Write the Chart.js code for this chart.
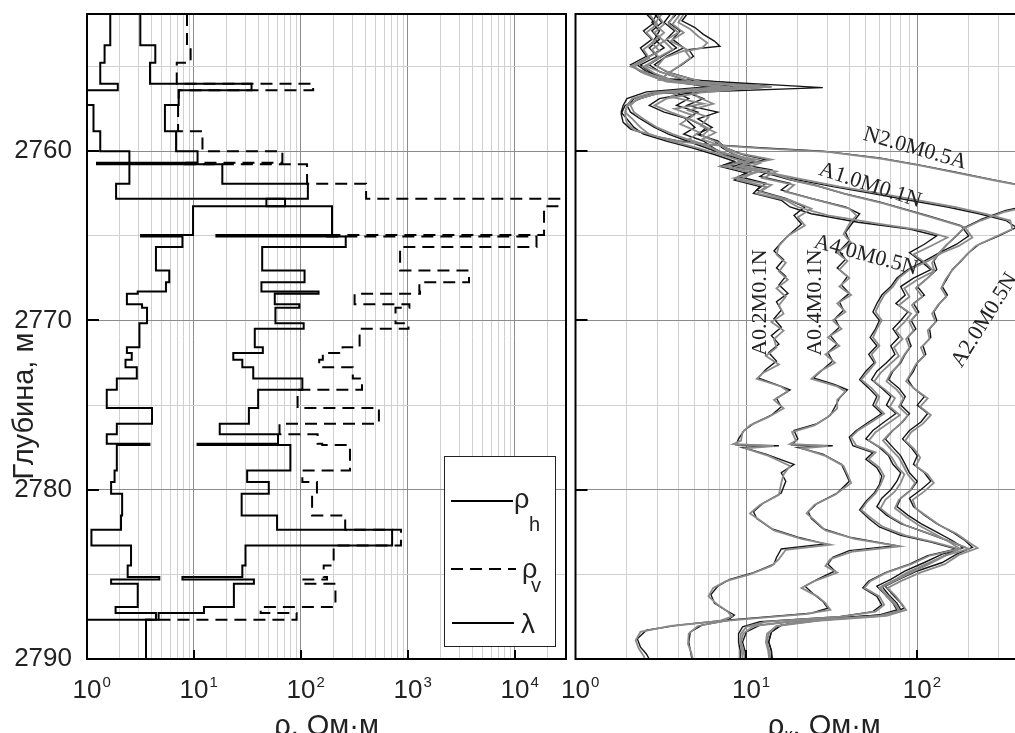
<!DOCTYPE html>
<html>
<head>
<meta charset="utf-8">
<script src="https://cdn.jsdelivr.net/npm/chart.js@4.4.0/dist/chart.umd.min.js"></script>
<style>
  html, body { margin: 0; padding: 0; background: #fff; overflow: hidden; width: 1015px; height: 733px; }
  #left { position: absolute; left: 0; top: 0; }
  #right { position: absolute; left: 540px; top: 0; }
</style>
</head>
<body>
<canvas id="left" width="600" height="733"></canvas>
<canvas id="right" width="560" height="733"></canvas>
<script>
// ---- left panel: layered model, layer boundaries (m) ----
const layerDepth = [2751.9, 2753.74, 2754.78, 2756.02, 2756.41, 2757.28, 2758.82, 2760.00, 2760.69, 2760.77,
  2761.93, 2762.81, 2763.25, 2764.96, 2765.04, 2765.67, 2767.05, 2767.74, 2768.29, 2768.42,
  2769.05, 2769.25, 2770.16, 2770.49, 2771.58, 2771.93, 2772.32, 2772.76, 2773.43, 2774.09,
  2775.18, 2776.10, 2776.73, 2777.28, 2777.36, 2778.86, 2779.55, 2780.24, 2781.52, 2782.36,
  2783.29, 2784.47, 2785.16, 2785.31, 2785.55, 2786.93, 2787.29, 2787.68, 2790.0];

const lambda = [1.65, 1.46, 1.33, 1.94, 1.0, 1.15, 1.33, 2.49, 2.49, 2.49,
  1.87, 71, 9.8, 3.2, 7.8, 4.41, 5.87, 5.47, 2.98, 2.36,
  3.27, 3.64, 3.09, 3.09, 2.36, 2.62, 2.29, 2.92, 1.9, 1.53,
  4.05, 1.9, 1.53, 3.83, 1.9, 1.81, 1.68, 2.13, 2.08, 1.1,
  2.58, 2.4, 4.74, 1.68, 2.98, 1.85, 4.41, 1.0];

const rhoH = [3.15, 4.35, 3.88, 34.5, 7.2, 5.35, 6.8, 10.8, 1.24, 18.4,
  116, 47.5, 195, 16.2, 262, 43.4, 108, 42.7, 146, 56.9,
  96.4, 57.7, 106, 37, 44, 23.3, 28.3, 35.8, 103, 39.8,
  32.6, 17.4, 61, 10.8, 79.6, 31.4, 50, 27.9, 59.8, 711,
  30.3, 28.3, 7.8, 36.3, 23.6, 12.4, 4.67, 3.56];

const rhoV = [8.6, 9.3, 6.9, 130, 7.2, 7.1, 12.0, 67, 7.7, 114,
  406, 200000, 18700, 166, 15900, 844, 3720, 1278, 1297, 317,
  1031, 765, 1012, 353, 245, 160, 148, 305, 372, 93,
  535, 63, 143, 158, 287, 103, 141, 127, 259, 860,
  202, 163, 175, 102, 210, 42, 91, 3.56];

// ---- right panel: apparent resistivity curves [depth, value] ----
const a02K = [[2751.9,3.0],[2752.4,2.8],[2752.9,3.1],[2753.4,2.9],[2753.9,3.3],[2754.4,2.7],[2754.9,2.3],[2755.3,2.6],[2755.8,3.6],[2756.2,8.5],[2756.5,3.8],[2756.9,4.6],[2757.3,3.9],[2757.7,5.2],[2758.1,4.4],[2758.6,5.0],[2759.0,4.3],[2759.4,5.6],[2759.8,6.4],[2760.2,7.5],[2760.5,10.5],[2760.8,7.6],[2761.1,11],[2761.5,9],[2761.9,13],[2762.3,11.5],[2762.8,17],[2763.3,22],[2763.8,19],[2764.3,21],[2764.9,18],[2765.4,16],[2765.9,14.5],[2766.4,16.5],[2766.9,15],[2767.4,17],[2767.9,15.5],[2768.4,17.5],[2768.9,15],[2769.4,16],[2769.9,14.5],[2770.4,16],[2770.9,14],[2771.4,15.5],[2771.9,13.5],[2772.4,15],[2772.9,13],[2773.4,11.7],[2773.8,15],[2774.1,18],[2774.6,15],[2775.1,16],[2775.6,14],[2776.1,11],[2776.5,9.7],[2777.0,9],[2777.35,8.7],[2777.4,15.5],[2777.5,9.5],[2777.9,13],[2778.5,19],[2779.0,16],[2779.5,17],[2780.2,16],[2780.8,12.5],[2781.3,11],[2781.7,11.5],[2782.3,14],[2782.8,20],[2783.2,29],[2783.5,16],[2784.0,15],[2784.4,14.5],[2784.9,11],[2785.3,8],[2785.7,6.8],[2786.2,6.2],[2786.7,6.5],[2787.1,7.5],[2787.4,8.5],[2787.7,7.8],[2788.0,4],[2788.3,2.6],[2788.8,2.3],[2789.3,2.4],[2789.7,2.6],[2790,2.7]];
const a02G = [[2751.9,3.2],[2752.5,2.9],[2753.0,3.3],[2753.6,2.8],[2754.1,3.1],[2754.6,2.5],[2755.0,2.1],[2755.5,2.8],[2755.9,3.9],[2756.15,11],[2756.4,4.2],[2756.8,3.6],[2757.2,5.6],[2757.5,3.8],[2757.9,4.9],[2758.4,4.1],[2758.9,5.3],[2759.3,4.6],[2759.7,6.0],[2760.1,7.0],[2760.5,11.5],[2760.9,7.2],[2761.2,12],[2761.6,8.5],[2762.0,14],[2762.4,12],[2762.9,18],[2763.4,24],[2763.9,20],[2764.4,22],[2765.0,17.5],[2765.6,15.5],[2766.1,15],[2766.6,17],[2767.1,15.5],[2767.6,17.5],[2768.1,15],[2768.6,17],[2769.1,15.5],[2769.6,16.5],[2770.1,14],[2770.6,16.5],[2771.1,14.5],[2771.6,15],[2772.1,13],[2772.6,15.5],[2773.1,12.5],[2773.45,11.5],[2773.9,16],[2774.2,17.5],[2774.7,14.5],[2775.2,16.5],[2775.7,13.5],[2776.2,10.5],[2776.6,9.5],[2777.1,9.3],[2777.3,8.4],[2777.42,14.5],[2777.55,9.8],[2778.0,13.5],[2778.6,18],[2779.1,16.5],[2779.6,16],[2780.3,15.5],[2780.9,12],[2781.4,10.5],[2781.8,12],[2782.4,14.5],[2782.9,21],[2783.25,31],[2783.55,17],[2784.1,15.5],[2784.5,14],[2785.0,10.5],[2785.4,7.6],[2785.8,6.4],[2786.3,6.0],[2786.8,6.8],[2787.2,7.8],[2787.5,8.2],[2787.75,7.0],[2788.05,3.6],[2788.4,2.4],[2788.9,2.25],[2789.4,2.35],[2789.8,2.5],[2790,2.55]];

const a04K = [[2751.9,3.6],[2752.4,3.3],[2752.9,3.8],[2753.4,3.4],[2753.9,3.9],[2754.4,3.2],[2754.9,2.7],[2755.3,3.1],[2755.8,4.4],[2756.2,13],[2756.5,4.4],[2756.9,5.6],[2757.3,4.5],[2757.7,6.8],[2758.1,5.2],[2758.6,6.3],[2759.0,5.1],[2759.4,6.8],[2759.8,7.5],[2760.2,9.5],[2760.5,13],[2760.8,9.5],[2761.1,14],[2761.5,12],[2761.9,18],[2762.3,16],[2762.8,24],[2763.3,38],[2763.7,46],[2764.2,42],[2764.8,38],[2765.3,40],[2765.9,35],[2766.4,38],[2766.9,34],[2767.4,39],[2767.9,36],[2768.4,40],[2768.9,35],[2769.4,37],[2769.9,33],[2770.4,35],[2770.9,31],[2771.4,34],[2771.9,30],[2772.4,32],[2772.9,28],[2773.4,24.7],[2773.8,33],[2774.1,39],[2774.6,35],[2775.1,33],[2775.6,31],[2776.1,26],[2776.5,19],[2777.0,20],[2777.35,18.5],[2777.4,32],[2777.5,20],[2777.9,28],[2778.5,36],[2779.0,38],[2779.5,40],[2780.2,34],[2780.8,26],[2781.3,23],[2781.7,24],[2782.3,28],[2782.8,40],[2783.3,75],[2783.6,40],[2784.0,32],[2784.4,30],[2784.8,33],[2785.3,26],[2785.7,22],[2786.2,25],[2786.6,28],[2787.0,30],[2787.3,24],[2787.7,8],[2788.0,5.5],[2788.4,4.7],[2789.0,4.6],[2789.5,4.7],[2790,4.8]];
const a04G = [[2751.9,3.8],[2752.5,3.5],[2753.0,4.0],[2753.5,3.3],[2754.0,3.7],[2754.5,3.0],[2755.0,2.6],[2755.4,3.3],[2755.9,4.8],[2756.15,12],[2756.45,4.8],[2756.8,5.2],[2757.2,6.4],[2757.6,4.6],[2758.0,6.0],[2758.5,5.4],[2758.9,6.6],[2759.3,5.5],[2759.7,7.2],[2760.1,8.8],[2760.5,14],[2760.9,9],[2761.2,15],[2761.6,12.5],[2762.0,19],[2762.4,17],[2762.9,26],[2763.4,40],[2763.8,44],[2764.3,40],[2764.9,37],[2765.4,41],[2766.0,34],[2766.5,39],[2767.0,35],[2767.5,40],[2768.0,35],[2768.5,41],[2769.0,34],[2769.5,38],[2770.0,32],[2770.5,36],[2771.0,30],[2771.5,35],[2772.0,29],[2772.5,33],[2773.0,27],[2773.45,24],[2773.9,34],[2774.2,38],[2774.7,34],[2775.2,34],[2775.7,30],[2776.2,25],[2776.6,18.5],[2777.1,19.5],[2777.3,18],[2777.42,30],[2777.55,21],[2778.0,29],[2778.6,37],[2779.1,39],[2779.6,41],[2780.3,33],[2780.9,25],[2781.4,22.5],[2781.8,25],[2782.4,29],[2782.9,43],[2783.35,79],[2783.65,42],[2784.1,31],[2784.5,29],[2784.9,34],[2785.4,25],[2785.8,21],[2786.3,26],[2786.7,29],[2787.1,31],[2787.35,22],[2787.75,7.5],[2788.05,5.2],[2788.5,4.6],[2789.1,4.55],[2789.6,4.75],[2790,4.85]];

const a10K = [[2751.9,3.9],[2752.4,3.5],[2752.9,4.1],[2753.4,3.7],[2753.9,4.3],[2754.4,3.4],[2754.9,2.9],[2755.3,3.4],[2755.8,5],[2756.2,14],[2756.5,5],[2756.9,3.1],[2757.3,2.7],[2757.7,3.3],[2758.1,4.6],[2758.6,5.8],[2759.0,5.3],[2759.4,6.5],[2759.8,7.2],[2760.2,8.5],[2760.6,11],[2760.9,9.5],[2761.3,13],[2761.7,18],[2762.0,25],[2762.5,37],[2763.0,60],[2763.8,114],[2764.4,180],[2765.0,200],[2765.5,170],[2766.0,135],[2766.5,110],[2767.0,88],[2767.5,76],[2768.0,70],[2768.5,62],[2769.0,58],[2769.5,55],[2770.0,60],[2770.5,57],[2771.0,53],[2771.5,58],[2772.0,52],[2772.5,56],[2773.0,50],[2773.5,46],[2774.0,52],[2774.5,58],[2775.0,55],[2775.5,62],[2776.0,52],[2776.5,44],[2776.9,40],[2777.4,42],[2777.8,55],[2778.2,50],[2778.7,58],[2779.2,62],[2779.7,60],[2780.2,56],[2780.7,50],[2781.2,46],[2781.7,52],[2782.2,60],[2782.7,80],[2783.1,120],[2783.5,170],[2783.9,115],[2784.4,90],[2784.9,65],[2785.4,52],[2785.8,48],[2786.3,58],[2786.8,62],[2787.2,55],[2787.5,35],[2787.8,12],[2788.1,9.5],[2788.5,9],[2789.0,9],[2789.5,9.2],[2790,9.2]];
const a10G = [[2751.9,4.1],[2752.5,3.7],[2753.0,4.3],[2753.5,3.6],[2754.0,4.5],[2754.5,3.3],[2755.0,3.0],[2755.4,3.6],[2755.9,5.4],[2756.2,13],[2756.55,5.4],[2756.9,3.4],[2757.3,2.9],[2757.7,3.6],[2758.2,4.9],[2758.7,6.1],[2759.1,5.5],[2759.5,6.9],[2759.9,7.6],[2760.3,9],[2760.7,12],[2761.0,10],[2761.4,15],[2761.8,20],[2762.1,27],[2762.6,40],[2763.1,64],[2763.9,120],[2764.5,190],[2765.1,210],[2765.6,175],[2766.0,140],[2766.5,115],[2767.0,90],[2767.5,78],[2768.0,72],[2768.5,64],[2769.0,60],[2769.5,57],[2770.0,62],[2770.5,58],[2771.0,55],[2771.5,60],[2772.0,54],[2772.5,57],[2773.0,52],[2773.5,47],[2774.0,54],[2774.5,60],[2775.0,57],[2775.5,64],[2776.0,54],[2776.5,45],[2776.9,41],[2777.4,44],[2777.8,57],[2778.2,52],[2778.7,60],[2779.2,64],[2779.7,61],[2780.2,57],[2780.7,51],[2781.2,47],[2781.7,54],[2782.2,63],[2782.7,85],[2783.1,125],[2783.5,175],[2783.9,118],[2784.4,92],[2784.9,66],[2785.4,53],[2785.8,49],[2786.3,60],[2786.8,64],[2787.2,57],[2787.5,36],[2787.8,13],[2788.1,10],[2788.5,9.3],[2789.0,9.2],[2789.5,9.4],[2790,9.5]];

const a40K = [[2751.9,2.6],[2752.4,2.9],[2752.9,2.5],[2753.4,2.8],[2753.9,2.4],[2754.4,2.6],[2754.9,2.1],[2755.3,2.4],[2755.8,3.2],[2756.2,6],[2756.5,2.6],[2756.9,2.0],[2757.3,1.9],[2757.7,1.85],[2758.1,2.0],[2758.6,2.2],[2759.0,2.5],[2759.4,3.4],[2759.8,4.8],[2760.2,6.5],[2760.6,8.5],[2760.9,7],[2761.3,10],[2761.7,8.5],[2762.1,12],[2762.5,11],[2762.9,16],[2763.3,18],[2763.7,24],[2764.2,45],[2764.6,90],[2765.0,130],[2765.5,110],[2766.0,90],[2766.5,105],[2767.0,120],[2767.5,95],[2768.0,80],[2768.5,85],[2769.0,75],[2769.5,88],[2770.0,80],[2770.5,72],[2771.0,78],[2771.5,70],[2772.0,74],[2772.5,66],[2773.0,58],[2773.5,54],[2774.0,62],[2774.5,70],[2775.0,66],[2775.5,75],[2776.0,64],[2776.5,55],[2777.0,50],[2777.5,60],[2778.0,68],[2778.5,72],[2779.0,80],[2779.5,76],[2780.0,70],[2780.5,62],[2781.0,58],[2781.5,66],[2782.0,80],[2782.5,110],[2783.0,150],[2783.4,190],[2783.8,140],[2784.3,110],[2784.8,85],[2785.3,70],[2785.7,58],[2786.2,65],[2786.7,72],[2787.1,76],[2787.4,60],[2787.7,25],[2788.0,16],[2788.4,14],[2789.0,13.5],[2789.5,14],[2790,14]];
const a40G = [[2751.9,2.7],[2752.5,3.0],[2753.0,2.6],[2753.5,2.9],[2754.0,2.5],[2754.5,2.7],[2755.0,2.2],[2755.4,2.5],[2755.9,3.4],[2756.2,7],[2756.55,2.8],[2756.9,2.15],[2757.3,2.0],[2757.7,1.95],[2758.1,2.15],[2758.6,2.4],[2759.0,2.7],[2759.4,3.6],[2759.8,5.1],[2760.2,7],[2760.6,9.5],[2760.9,7.5],[2761.3,11],[2761.7,9],[2762.1,13],[2762.5,11.5],[2762.9,17],[2763.3,20],[2763.8,30],[2764.3,60],[2764.7,110],[2765.1,150],[2765.6,120],[2766.1,95],[2766.6,112],[2767.1,125],[2767.6,100],[2768.1,84],[2768.6,90],[2769.1,78],[2769.6,92],[2770.1,84],[2770.6,75],[2771.1,82],[2771.6,73],[2772.1,78],[2772.6,69],[2773.1,61],[2773.6,56],[2774.1,65],[2774.6,74],[2775.1,69],[2775.6,79],[2776.1,67],[2776.6,57],[2777.1,52],[2777.6,63],[2778.1,71],[2778.6,76],[2779.1,84],[2779.6,80],[2780.1,74],[2780.6,65],[2781.1,61],[2781.6,70],[2782.1,85],[2782.6,118],[2783.1,160],[2783.5,200],[2783.9,145],[2784.4,112],[2784.9,87],[2785.4,72],[2785.8,60],[2786.3,68],[2786.8,75],[2787.15,79],[2787.45,62],[2787.75,23],[2788.05,15],[2788.5,13.2],[2789.0,13],[2789.5,13.4],[2790,13.6]];

const a20K = [[2751.9,2.9],[2752.4,3.2],[2752.9,2.8],[2753.4,3.1],[2753.9,2.7],[2754.4,3.0],[2754.9,2.4],[2755.3,2.7],[2755.8,3.6],[2756.2,7],[2756.5,3.0],[2756.9,2.2],[2757.3,2.0],[2757.7,2.1],[2758.1,2.4],[2758.6,2.9],[2759.0,3.5],[2759.4,4.5],[2759.8,5.8],[2760.2,7.5],[2760.6,10],[2760.9,8.5],[2761.3,13],[2761.7,20],[2762.1,32],[2762.5,55],[2762.9,90],[2763.3,150],[2763.7,230],[2764.1,330],[2764.5,380],[2765.0,300],[2765.5,230],[2766.0,200],[2766.5,180],[2767.0,160],[2767.5,150],[2768.0,140],[2768.5,150],[2769.0,135],[2769.5,125],[2770.0,130],[2770.5,118],[2771.0,120],[2771.5,108],[2772.0,112],[2772.5,100],[2773.0,95],[2773.5,88],[2774.0,95],[2774.5,110],[2775.0,100],[2775.5,115],[2776.0,105],[2776.5,90],[2777.0,82],[2777.5,92],[2778.0,100],[2778.5,95],[2779.0,110],[2779.5,120],[2780.0,105],[2780.5,90],[2781.0,95],[2781.5,110],[2782.0,130],[2782.5,160],[2783.0,190],[2783.4,210],[2783.8,170],[2784.3,140],[2784.8,100],[2785.3,78],[2785.7,65],[2786.2,72],[2786.7,80],[2787.0,84],[2787.4,65],[2787.7,28],[2788.0,16],[2788.4,14],[2789.0,13.5],[2789.5,14],[2790,14.2]];
const a20G = [[2751.9,3.0],[2752.5,3.3],[2753.0,2.9],[2753.5,3.3],[2754.0,2.8],[2754.5,3.1],[2755.0,2.5],[2755.4,2.9],[2755.9,3.9],[2756.2,8],[2756.55,3.2],[2756.9,2.3],[2757.3,2.1],[2757.7,2.2],[2758.1,2.5],[2758.6,3.0],[2759.0,3.7],[2759.4,4.8],[2759.8,6.1],[2760.2,8],[2760.6,10.5],[2760.9,9],[2761.3,14],[2761.7,22],[2762.1,35],[2762.5,60],[2762.9,100],[2763.3,165],[2763.7,250],[2764.1,350],[2764.6,360],[2765.1,280],[2765.6,220],[2766.1,195],[2766.6,175],[2767.1,158],[2767.6,146],[2768.1,138],[2768.6,148],[2769.1,132],[2769.6,122],[2770.1,128],[2770.6,115],[2771.1,118],[2771.6,105],[2772.1,110],[2772.6,98],[2773.1,92],[2773.6,86],[2774.1,98],[2774.6,115],[2775.1,104],[2775.6,120],[2776.1,108],[2776.6,92],[2777.1,85],[2777.6,96],[2778.1,104],[2778.6,98],[2779.1,115],[2779.6,125],[2780.1,110],[2780.6,94],[2781.1,98],[2781.6,115],[2782.1,135],[2782.6,170],[2783.1,200],[2783.45,225],[2783.85,175],[2784.4,145],[2784.9,104],[2785.4,80],[2785.8,67],[2786.3,75],[2786.8,82],[2787.1,86],[2787.45,66],[2787.75,26],[2788.05,15],[2788.5,13.5],[2789.0,13.2],[2789.5,13.6],[2790,13.8]];

const n20K = [[2751.9,4.5],[2752.3,4.2],[2752.7,5.0],[2753.1,5.6],[2753.5,6.5],[2753.8,7.0],[2754.0,4.6],[2754.4,4.9],[2754.9,4.2],[2755.3,3.6],[2755.7,3.2],[2756.25,28],[2756.6,3.0],[2756.9,2.4],[2757.3,1.95],[2757.8,1.85],[2758.3,1.9],[2758.7,2.1],[2759.1,2.8],[2759.4,4],[2759.6,6],[2759.8,12],[2760.0,28],[2760.4,60],[2760.8,100],[2761.2,160],[2761.7,280],[2762.1,450],[2762.6,700],[2763.1,500],[2763.5,330],[2764.0,240],[2764.5,190],[2765.0,170],[2765.5,150],[2766.0,135],[2766.5,125],[2767.0,130],[2767.5,115],[2768.0,100],[2768.5,110],[2769.0,95],[2769.5,102],[2770.0,92],[2770.5,98],[2771.0,88],[2771.5,92],[2772.0,85],[2772.5,80],[2773.0,72],[2773.5,68],[2774.0,78],[2774.5,85],[2775.0,80],[2775.5,90],[2776.0,82],[2776.5,72],[2777.0,65],[2777.5,72],[2778.0,80],[2778.5,85],[2779.0,90],[2779.5,100],[2780.0,92],[2780.5,80],[2781.0,76],[2781.5,88],[2782.0,105],[2782.5,130],[2783.0,160],[2783.4,185],[2783.8,150],[2784.3,120],[2784.8,95],[2785.3,75],[2785.7,62],[2786.2,68],[2786.7,76],[2787.1,80],[2787.4,62],[2787.7,22],[2788.0,12],[2788.4,10],[2789.0,9.5],[2789.5,9.8],[2790,10]];
const n20G = [[2751.9,4.3],[2752.4,4.0],[2752.8,4.7],[2753.2,5.2],[2753.6,5.9],[2753.9,5.5],[2754.1,4.4],[2754.5,4.7],[2755.0,4.0],[2755.4,3.5],[2755.8,3.1],[2756.2,14],[2756.6,2.9],[2756.95,2.3],[2757.35,2.0],[2757.85,1.95],[2758.35,2.0],[2758.75,2.2],[2759.15,3.0],[2759.45,4.2],[2759.65,6.5],[2759.85,13],[2760.05,30],[2760.45,62],[2760.85,105],[2761.25,165],[2761.75,290],[2762.15,470],[2762.7,720],[2763.2,480],[2763.6,320],[2764.1,235],[2764.6,185],[2765.1,165],[2765.6,146],[2766.1,132],[2766.6,122],[2767.1,126],[2767.6,112],[2768.1,98],[2768.6,107],[2769.1,93],[2769.6,100],[2770.1,90],[2770.6,95],[2771.1,86],[2771.6,90],[2772.1,83],[2772.6,78],[2773.1,70],[2773.6,66],[2774.1,76],[2774.6,83],[2775.1,78],[2775.6,88],[2776.1,80],[2776.6,70],[2777.1,63],[2777.6,70],[2778.1,78],[2778.6,83],[2779.1,88],[2779.6,97],[2780.1,90],[2780.6,78],[2781.1,74],[2781.6,86],[2782.1,102],[2782.6,126],[2783.1,155],[2783.5,178],[2783.9,146],[2784.4,117],[2784.9,92],[2785.4,73],[2785.8,61],[2786.3,66],[2786.8,74],[2787.15,78],[2787.45,60],[2787.75,20],[2788.05,11],[2788.5,9.6],[2789.0,9.3],[2789.5,9.6],[2790,9.8]];

// curve labels on the right panel: text, value, depth, angle (deg)
const curveLabels = ['N2.0M0.5A', 'A1.0M0.1N', 'A4.0M0.5N', 'A0.2M0.1N', 'A0.4M0.1N', 'A2.0M0.5N'];
const labelValue = [97, 53, 50, 12.1, 25.3, 248];
const labelDepth = [2759.85, 2762.03, 2766.16, 2768.95, 2768.95, 2770.0];
const labelAngle = [16, 18, 15, -90, -90, -58];

const depthGrid = [2755, 2760, 2765, 2770, 2775, 2780, 2785, 2790];
const depthTicks = [2760, 2770, 2780];

const FONT = '"Liberation Sans", Arial, sans-serif';
const SERIF = '"Liberation Serif", "Times New Roman", serif';
const MAJOR = '#8c8c8c', MINOR = '#d0d0d0';
const BLACK = '#151515', GRAY = '#8a8a8a';

function logGrid(min, max) {
  const out = [];
  for (let e = Math.floor(Math.log10(min)); e <= Math.ceil(Math.log10(max)); e++) {
    for (let m = 1; m <= 9; m++) {
      const v = m * Math.pow(10, e);
      if (v >= min * 0.999 && v <= max * 1.001) out.push(v);
    }
  }
  return out;
}
function isDecade(v) {
  const l = Math.log10(v);
  return Math.abs(l - Math.round(l)) < 1e-6;
}
function stepPoints(bounds, vals) {
  const pts = [];
  vals.forEach((v, i) => {
    pts.push({x: v, y: bounds[i]});
    pts.push({x: v, y: bounds[i + 1]});
  });
  return pts;
}
function pairPoints(list) {
  return list.map(p => ({x: p[1], y: p[0]}));
}

function drawPowLabels(ctx, scale, exps, baseY) {
  exps.forEach(e => {
    const px = scale.getPixelForValue(Math.pow(10, e));
    ctx.fillStyle = '#222';
    ctx.font = '26px ' + FONT;
    ctx.textAlign = 'center';
    ctx.textBaseline = 'alphabetic';
    ctx.fillText('10', px, baseY);
    const w = ctx.measureText('10').width;
    ctx.font = '15px ' + FONT;
    ctx.textAlign = 'left';
    ctx.fillText(String(e), px + w / 2 + 1, baseY - 11);
  });
}
// parts: [text, size, dy]
function drawParts(ctx, parts, cx, baseY, family) {
  let total = 0;
  parts.forEach(p => { ctx.font = p[1] + 'px ' + family; total += ctx.measureText(p[0]).width; });
  let x = cx - total / 2;
  ctx.textAlign = 'left';
  ctx.textBaseline = 'alphabetic';
  parts.forEach(p => {
    ctx.font = p[1] + 'px ' + family;
    ctx.fillText(p[0], x, baseY + (p[2] || 0));
    x += ctx.measureText(p[0]).width;
  });
}
function drawFrame(ctx, a, x, y, xTicks) {
  ctx.strokeStyle = '#000';
  ctx.lineWidth = 2;
  ctx.strokeRect(a.left, a.top, a.right - a.left, a.bottom - a.top);
  ctx.beginPath();
  xTicks.forEach(v => {
    const px = Math.round(x.getPixelForValue(v));
    ctx.moveTo(px, a.bottom);
    ctx.lineTo(px, a.bottom - 9);
  });
  depthTicks.forEach(d => {
    const py = Math.round(y.getPixelForValue(d));
    ctx.moveTo(a.left, py);
    ctx.lineTo(a.left + 12, py);
  });
  ctx.stroke();
}

const leftDecor = {
  id: 'leftDecor',
  afterDraw(chart) {
    const {ctx, chartArea: a, scales: {x, y}} = chart;
    ctx.save();
    drawFrame(ctx, a, x, y, [10, 100, 1000, 10000]);
    drawPowLabels(ctx, x, [0, 1, 2, 3, 4], a.bottom + 39);
    ctx.fillStyle = '#222';
    drawParts(ctx, [['ρ, Ом·м', 29]], (a.left + a.right) / 2, 735, FONT);
    // vertical axis title
    ctx.save();
    ctx.translate(33, 406);
    ctx.rotate(-Math.PI / 2);
    ctx.font = '29px ' + FONT;
    ctx.textAlign = 'center';
    ctx.textBaseline = 'alphabetic';
    ctx.fillText('Глубина, м', 0, 0);
    ctx.restore();
    // legend box
    const L = a.right - 122, T = a.bottom - 203;
    ctx.fillStyle = '#fff';
    ctx.fillRect(L, T, 111, 190);
    ctx.strokeStyle = '#222';
    ctx.lineWidth = 1;
    ctx.strokeRect(L + 0.5, T + 0.5, 111, 190);
    ctx.strokeStyle = '#000';
    ctx.lineWidth = 2;
    ctx.beginPath(); ctx.moveTo(L + 7, T + 45); ctx.lineTo(L + 69, T + 45); ctx.stroke();
    ctx.setLineDash([12, 7]);
    ctx.beginPath(); ctx.moveTo(L + 7, T + 113); ctx.lineTo(L + 72, T + 113); ctx.stroke();
    ctx.setLineDash([]);
    ctx.beginPath(); ctx.moveTo(L + 8, T + 167); ctx.lineTo(L + 70, T + 167); ctx.stroke();
    ctx.fillStyle = '#222';
    ctx.textAlign = 'left';
    ctx.font = '27px ' + FONT;
    ctx.fillText('ρ', L + 70, T + 52);
    ctx.fillText('ρ', L + 78, T + 122);
    ctx.font = '28px ' + FONT;
    ctx.fillText('λ', L + 77, T + 177);
    ctx.font = '20px ' + FONT;
    ctx.fillText('h', L + 85, T + 75);
    ctx.fillText('v', L + 87, T + 136);
    ctx.restore();
  }
};

const rightDecor = {
  id: 'rightDecor',
  afterDraw(chart) {
    const {ctx, chartArea: a, scales: {x, y}} = chart;
    ctx.save();
    drawFrame(ctx, a, x, y, [10, 100]);
    drawPowLabels(ctx, x, [0, 1, 2], a.bottom + 39);
    ctx.fillStyle = '#222';
    drawParts(ctx, [['ρ', 29], ['к', 19, 6], [', Ом·м', 29]], (a.left + a.right) / 2, 735, FONT);
    ctx.font = '22px ' + SERIF;
    ctx.textAlign = 'center';
    ctx.textBaseline = 'middle';
    curveLabels.forEach((t, i) => {
      ctx.save();
      ctx.translate(x.getPixelForValue(labelValue[i]), y.getPixelForValue(labelDepth[i]));
      ctx.rotate(labelAngle[i] * Math.PI / 180);
      ctx.fillText(t, 0, 0);
      ctx.restore();
    });
    ctx.restore();
  }
};

function depthAxis(width, showLabels) {
  return {
    type: 'linear', reverse: true, min: 2751.9, max: 2790,
    afterBuildTicks: s => { s.ticks = depthGrid.map(v => ({value: v})); },
    afterFit: s => { s.width = width; s.paddingTop = 0; s.paddingBottom = 0; },
    ticks: {
      display: showLabels, autoSkip: false, padding: 15, color: '#222',
      font: {family: FONT, size: 26},
      callback: v => (v % 10 === 0 ? String(v) : '')
    },
    grid: { color: c => (c.tick && c.tick.value % 10 === 0 ? MAJOR : MINOR), drawTicks: false, lineWidth: 1 },
    border: { display: false }
  };
}
function rhoAxis(max) {
  return {
    type: 'logarithmic', min: 1, max: max,
    afterBuildTicks: s => { s.ticks = logGrid(1, max).map(v => ({value: v})); },
    afterFit: s => { s.height = 74; s.paddingLeft = 0; s.paddingRight = 0; },
    ticks: { display: false },
    grid: { color: c => (c.tick && isDecade(c.tick.value) ? MAJOR : MINOR), drawTicks: false, lineWidth: 1 },
    border: { display: false }
  };
}

const common = {
  responsive: false,
  animation: false,
  devicePixelRatio: 1,
  events: [],
  plugins: { legend: { display: false }, tooltip: { enabled: false } },
  elements: { point: { radius: 0 }, line: { tension: 0 } }
};

new Chart(document.getElementById('left'), {
  type: 'scatter',
  data: {
    datasets: [
      { label: 'ρv', data: stepPoints(layerDepth, rhoV), showLine: true, borderColor: '#000', borderWidth: 2, borderDash: [12, 7] },
      { label: 'ρh', data: stepPoints(layerDepth, rhoH), showLine: true, borderColor: '#000', borderWidth: 2 },
      { label: 'λ', data: stepPoints(layerDepth, lambda), showLine: true, borderColor: '#000', borderWidth: 2 }
    ]
  },
  options: Object.assign({}, common, {
    layout: { padding: { left: 0, top: 14, right: 34, bottom: 0 } },
    scales: { x: rhoAxis(30000), y: depthAxis(87, true) }
  }),
  plugins: [leftDecor]
});

const rightSeries = [
  ['A0.2M0.1N', a02G, GRAY], ['A0.4M0.1N', a04G, GRAY], ['A1.0M0.1N', a10G, GRAY],
  ['A4.0M0.5N', a40G, GRAY], ['A2.0M0.5N', a20G, GRAY], ['N2.0M0.5A', n20G, GRAY],
  ['A0.2M0.1N', a02K, BLACK], ['A0.4M0.1N', a04K, BLACK], ['A1.0M0.1N', a10K, BLACK],
  ['A4.0M0.5N', a40K, BLACK], ['A2.0M0.5N', a20K, BLACK], ['N2.0M0.5A', n20K, BLACK]
];

new Chart(document.getElementById('right'), {
  type: 'scatter',
  data: {
    datasets: rightSeries.map(s => ({
      label: s[0], data: pairPoints(s[1]), showLine: true,
      borderColor: s[2], borderWidth: s[2] === GRAY ? 1.8 : 1.4
    }))
  },
  options: Object.assign({}, common, {
    layout: { padding: { left: 35.5, top: 14, right: 27, bottom: 0 } },
    scales: { x: rhoAxis(815), y: depthAxis(0, false) }
  }),
  plugins: [rightDecor]
});
</script>
</body>
</html>
